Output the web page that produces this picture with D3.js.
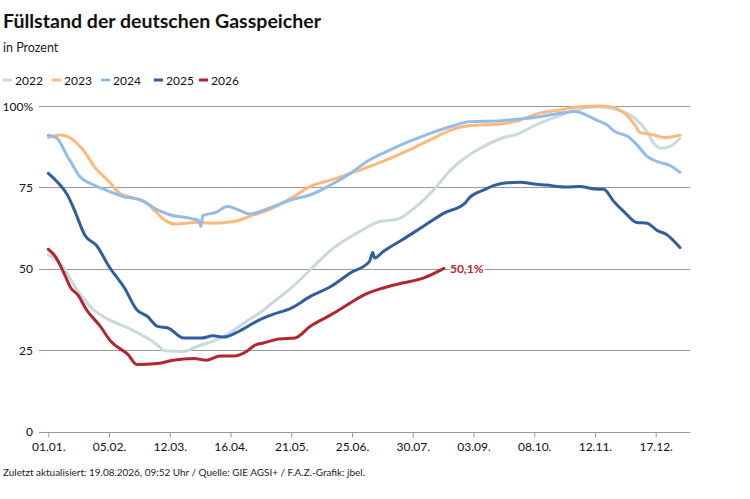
<!DOCTYPE html>
<html>
<head>
<meta charset="utf-8">
<script src="https://cdn.jsdelivr.net/npm/d3@7"></script>
<style>
  body { margin: 0; background: #fff; }
  svg { display: block; font-family: Lato, "Noto Sans", sans-serif; }
</style>
</head>
<body>
<svg id="chart" width="750" height="499"></svg>
<script>
// ---- data (day of year, fill level in %) ----
const years = ["2022", "2023", "2024", "2025", "2026"];
const colors = ["#c8dade", "#fdb97c", "#95bce8", "#2f5f9f", "#b0282d"];

const days2022 = [0,5,10,14,20,26,33,46,57,63,67,78,86,95,105,114,122,129,140,151,163,178,191,201,212,222,232,240,249,261,270,281,293,304,317,328,338,345,349,353,358,364];
const vals2022 = [54.3,52.5,49.5,45.6,41,37.4,34.9,31.8,28.7,26.5,24.8,24.6,26.2,27.7,30.4,33.8,36.5,39.5,44.1,49.7,55.8,61,64.5,65.2,69.1,74.2,80.4,84,87,90.1,91.3,94.2,96.7,98.8,99.8,98.8,96.2,92.1,88.5,87,87.5,90.1];

const days2023 = [0,7,13,20,28,35,41,49,57,62,67,74,84,95,107,116,127,140,151,163,174,185,197,208,220,232,243,261,272,283,295,306,319,326,332,338,341,349,355,364];
const vals2023 = [90.3,91.1,90.1,86.5,80.4,76.8,73.2,71.7,70.1,67.5,65,63.7,64.2,64,64.5,66.1,68.1,71.7,75.3,77.3,79.3,81.4,83.9,86.5,89.6,92.6,94,94.5,95.7,97.8,98.8,99.8,100,99.5,97.8,94.2,91.9,91.1,90.3,91];

const days2024 = [0,5,11,14,18,26,33,43,53,63,72,80,87,88,89,97,103,110,116,127,140,151,163,174,185,197,208,220,232,243,261,272,283,295,304,310,317,322,326,334,339,345,351,358,364];
const vals2024 = [91,90.1,84.5,81.9,78.4,75.8,74.2,72.2,71.2,68.1,66.3,65.7,64.7,63,66.3,67.4,69.1,68,66.8,68.6,71.2,72.7,75.8,79.3,83.4,86.5,89.1,91.6,93.7,95.2,95.5,96,96.7,97.8,98.3,97.2,95.4,94.2,92.3,90.6,88.2,84.5,82.9,81.8,79.6];

const days2025 = [0,6,11,15,21,28,35,44,51,57,63,69,78,88,95,101,110,122,129,140,151,163,174,185,187,188,193,204,216,228,240,243,251,257,264,272,279,287,299,306,315,320,326,332,339,345,351,356,364];
const vals2025 = [79.3,76.2,72.7,68.1,60.4,57,50.7,44,37.4,35.4,32.3,31.8,28.7,28.7,29.4,29,30.8,34.4,35.9,37.9,41.5,44.6,48.7,52.2,55,53.3,55.3,58.9,63,67.1,70.1,72,74.2,75.6,76.4,76.6,76.1,75.7,75.1,75.3,74.5,74.4,70.6,67.4,64.2,64,61.7,60.6,56.5];

const days2026 = [0,4,9,13,17,22,30,36,46,51,63,72,84,91,99,107,114,119,124,133,142,151,163,174,182,193,204,216,228];
const vals2026 = [56,53.8,48.7,44.1,42,37.4,32.3,27.7,23.6,20.6,20.9,21.9,22.4,21.9,23.2,23.2,24.5,26.5,27.2,28.4,28.7,32.3,35.9,39.5,42,44.1,45.6,47.1,50.1];

const allDays = [days2022, days2023, days2024, days2025, days2026];
const allVals = [vals2022, vals2023, vals2024, vals2025, vals2026];

const yTicks = [0, 25, 50, 75, 100];
const xTickDays = [0,35,70,105,140,175,210,245,280,315,350];
const xTickLabels = ["01.01.","05.02.","12.03.","16.04.","21.05.","25.06.","30.07.","03.09.","08.10.","12.11.","17.12."];
const lastLabel = "50,1%";

// ---- chart ----
const svg = d3.select("#chart");
const x = d3.scaleLinear().domain([0, 365]).range([48.3, 681.7]);
const y = d3.scaleLinear().domain([0, 100]).range([431.5, 106]);
const gridX0 = 39, gridX1 = 690;

svg.append("text").attr("x", 3).attr("y", 28)
  .attr("font-size", 18.5).attr("font-weight", 700).attr("fill", "#111")
  .attr("textLength", 318).attr("lengthAdjust", "spacingAndGlyphs")
  .text("Füllstand der deutschen Gasspeicher");
svg.append("text").attr("x", 3).attr("y", 52)
  .attr("font-size", 12.5).attr("fill", "#222").text("in Prozent");

// legend
const legendX = [3, 52, 101, 154, 199];
const lg = svg.append("g");
years.forEach((yr, i) => {
  lg.append("line").attr("x1", legendX[i]).attr("x2", legendX[i] + 9)
    .attr("y1", 80).attr("y2", 80).attr("stroke", colors[i]).attr("stroke-width", 3);
  lg.append("text").attr("x", legendX[i] + 12).attr("y", 84.5)
    .attr("font-size", 12).attr("fill", "#111").text(yr);
});

// gridlines + y labels
const gy = svg.append("g");
yTicks.forEach(t => {
  gy.append("line").attr("x1", gridX0).attr("x2", gridX1)
    .attr("y1", Math.round(y(t)) + 0.5).attr("y2", Math.round(y(t)) + 0.5)
    .attr("stroke", "#999").attr("stroke-width", 1);
  gy.append("text").attr("x", 33).attr("y", y(t)).attr("dy", "0.38em")
    .attr("text-anchor", "end").attr("font-size", 12).attr("fill", "#111")
    .text(t === 100 ? "100%" : t);
});

// x axis
const xAxis = d3.axisBottom(x).tickValues(xTickDays)
  .tickFormat((d, i) => xTickLabels[i]).tickSize(5).tickPadding(5);
const gx = svg.append("g").attr("transform", `translate(0,${Math.round(y(0)) + 0.5})`).call(xAxis);
gx.select(".domain").remove();
gx.selectAll(".tick line").attr("stroke", "#999");
gx.selectAll(".tick text").attr("font-size", 12).attr("fill", "#111")
  .attr("font-family", "Lato, 'Noto Sans', sans-serif");

// lines
const line = d3.line().x(d => x(d[0])).y(d => y(d[1])).curve(d3.curveMonotoneX);
years.forEach((yr, i) => {
  const pts = allDays[i].map((d, j) => [d, allVals[i][j]]);
  svg.append("path").datum(pts).attr("d", line)
    .attr("fill", "none").attr("stroke", colors[i]).attr("stroke-width", 3)
    .attr("stroke-linejoin", "round").attr("stroke-linecap", "round");
});

// end label for 2026
const lastD = days2026[days2026.length - 1], lastV = vals2026[vals2026.length - 1];
svg.append("text").attr("x", x(lastD) + 6).attr("y", y(lastV)).attr("dy", "0.36em")
  .attr("font-size", 12).attr("font-weight", 700).attr("fill", colors[4])
  .attr("stroke", "#fff").attr("stroke-width", 3).attr("paint-order", "stroke")
  .text(lastLabel);

// footer
svg.append("text").attr("x", 3).attr("y", 476)
  .attr("font-size", 10).attr("fill", "#222")
  .attr("textLength", 362).attr("lengthAdjust", "spacingAndGlyphs")
  .text("Zuletzt aktualisiert: 19.08.2026, 09:52 Uhr / Quelle: GIE AGSI+ / F.A.Z.-Grafik: jbel.");
</script>
</body>
</html>
